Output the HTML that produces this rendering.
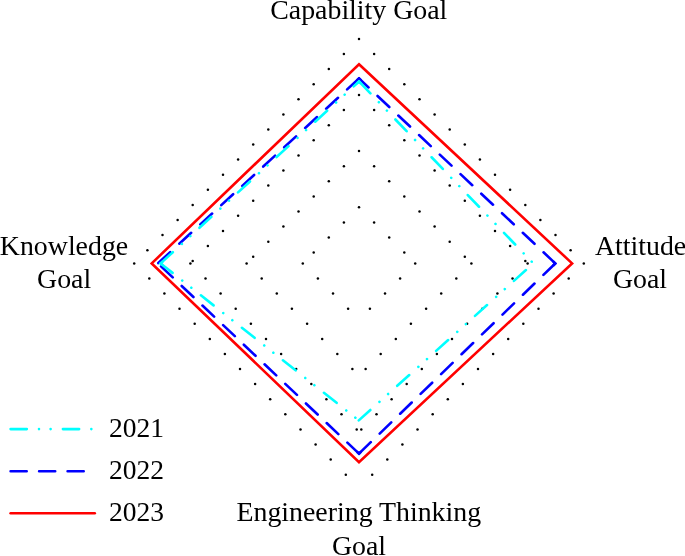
<!DOCTYPE html>
<html><head><meta charset="utf-8"><title>Radar chart</title>
<style>html,body{margin:0;padding:0;background:#fff}svg{display:block}</style></head>
<body>
<svg width="685" height="556" viewBox="0 0 685 556">
<rect width="685" height="556" fill="#fff"/>
<g fill="#000">
<circle cx="359.0" cy="207.3" r="1.25"/>
<circle cx="343.9" cy="222.4" r="1.25"/>
<circle cx="328.8" cy="237.5" r="1.25"/>
<circle cx="313.7" cy="252.6" r="1.25"/>
<circle cx="302.8" cy="263.4" r="1.25"/>
<circle cx="317.9" cy="278.5" r="1.25"/>
<circle cx="333.0" cy="293.6" r="1.25"/>
<circle cx="348.1" cy="308.7" r="1.25"/>
<circle cx="374.1" cy="222.4" r="1.25"/>
<circle cx="389.2" cy="237.5" r="1.25"/>
<circle cx="404.3" cy="252.6" r="1.25"/>
<circle cx="415.2" cy="263.4" r="1.25"/>
<circle cx="400.1" cy="278.5" r="1.25"/>
<circle cx="385.0" cy="293.6" r="1.25"/>
<circle cx="369.9" cy="308.7" r="1.25"/>
<circle cx="359.0" cy="151.1" r="1.25"/>
<circle cx="343.9" cy="166.2" r="1.25"/>
<circle cx="328.8" cy="181.3" r="1.25"/>
<circle cx="313.7" cy="196.4" r="1.25"/>
<circle cx="298.5" cy="211.5" r="1.25"/>
<circle cx="283.4" cy="226.6" r="1.25"/>
<circle cx="268.3" cy="241.7" r="1.25"/>
<circle cx="253.2" cy="256.8" r="1.25"/>
<circle cx="246.6" cy="263.4" r="1.25"/>
<circle cx="261.7" cy="278.5" r="1.25"/>
<circle cx="276.8" cy="293.6" r="1.25"/>
<circle cx="291.9" cy="308.7" r="1.25"/>
<circle cx="307.1" cy="323.8" r="1.25"/>
<circle cx="322.2" cy="338.9" r="1.25"/>
<circle cx="337.3" cy="354.0" r="1.25"/>
<circle cx="352.4" cy="369.1" r="1.25"/>
<circle cx="374.1" cy="166.2" r="1.25"/>
<circle cx="389.2" cy="181.3" r="1.25"/>
<circle cx="404.3" cy="196.4" r="1.25"/>
<circle cx="419.5" cy="211.5" r="1.25"/>
<circle cx="434.6" cy="226.6" r="1.25"/>
<circle cx="449.7" cy="241.7" r="1.25"/>
<circle cx="464.8" cy="256.8" r="1.25"/>
<circle cx="471.4" cy="263.4" r="1.25"/>
<circle cx="456.3" cy="278.5" r="1.25"/>
<circle cx="441.2" cy="293.6" r="1.25"/>
<circle cx="426.1" cy="308.7" r="1.25"/>
<circle cx="410.9" cy="323.8" r="1.25"/>
<circle cx="395.8" cy="338.9" r="1.25"/>
<circle cx="380.7" cy="354.0" r="1.25"/>
<circle cx="365.6" cy="369.1" r="1.25"/>
<circle cx="359.0" cy="95.0" r="1.25"/>
<circle cx="343.9" cy="110.1" r="1.25"/>
<circle cx="328.8" cy="125.2" r="1.25"/>
<circle cx="313.7" cy="140.3" r="1.25"/>
<circle cx="298.5" cy="155.4" r="1.25"/>
<circle cx="283.4" cy="170.5" r="1.25"/>
<circle cx="268.3" cy="185.6" r="1.25"/>
<circle cx="253.2" cy="200.7" r="1.25"/>
<circle cx="238.1" cy="215.8" r="1.25"/>
<circle cx="223.0" cy="230.9" r="1.25"/>
<circle cx="207.9" cy="246.0" r="1.25"/>
<circle cx="192.7" cy="261.1" r="1.25"/>
<circle cx="190.4" cy="263.4" r="1.25"/>
<circle cx="205.5" cy="278.5" r="1.25"/>
<circle cx="220.6" cy="293.6" r="1.25"/>
<circle cx="235.7" cy="308.7" r="1.25"/>
<circle cx="250.9" cy="323.8" r="1.25"/>
<circle cx="266.0" cy="338.9" r="1.25"/>
<circle cx="281.1" cy="354.0" r="1.25"/>
<circle cx="296.2" cy="369.1" r="1.25"/>
<circle cx="311.3" cy="384.1" r="1.25"/>
<circle cx="326.4" cy="399.2" r="1.25"/>
<circle cx="341.5" cy="414.3" r="1.25"/>
<circle cx="356.7" cy="429.4" r="1.25"/>
<circle cx="374.1" cy="110.1" r="1.25"/>
<circle cx="389.2" cy="125.2" r="1.25"/>
<circle cx="404.3" cy="140.3" r="1.25"/>
<circle cx="419.5" cy="155.4" r="1.25"/>
<circle cx="434.6" cy="170.5" r="1.25"/>
<circle cx="449.7" cy="185.6" r="1.25"/>
<circle cx="464.8" cy="200.7" r="1.25"/>
<circle cx="479.9" cy="215.8" r="1.25"/>
<circle cx="495.0" cy="230.9" r="1.25"/>
<circle cx="510.1" cy="246.0" r="1.25"/>
<circle cx="525.3" cy="261.1" r="1.25"/>
<circle cx="527.6" cy="263.4" r="1.25"/>
<circle cx="512.5" cy="278.5" r="1.25"/>
<circle cx="497.4" cy="293.6" r="1.25"/>
<circle cx="482.3" cy="308.7" r="1.25"/>
<circle cx="467.1" cy="323.8" r="1.25"/>
<circle cx="452.0" cy="338.9" r="1.25"/>
<circle cx="436.9" cy="354.0" r="1.25"/>
<circle cx="421.8" cy="369.1" r="1.25"/>
<circle cx="406.7" cy="384.1" r="1.25"/>
<circle cx="391.6" cy="399.2" r="1.25"/>
<circle cx="376.5" cy="414.3" r="1.25"/>
<circle cx="361.3" cy="429.4" r="1.25"/>
<circle cx="359.0" cy="38.9" r="1.25"/>
<circle cx="343.9" cy="54.0" r="1.25"/>
<circle cx="328.8" cy="69.1" r="1.25"/>
<circle cx="313.7" cy="84.2" r="1.25"/>
<circle cx="298.5" cy="99.3" r="1.25"/>
<circle cx="283.4" cy="114.4" r="1.25"/>
<circle cx="268.3" cy="129.5" r="1.25"/>
<circle cx="253.2" cy="144.6" r="1.25"/>
<circle cx="238.1" cy="159.6" r="1.25"/>
<circle cx="223.0" cy="174.7" r="1.25"/>
<circle cx="207.9" cy="189.8" r="1.25"/>
<circle cx="192.7" cy="204.9" r="1.25"/>
<circle cx="177.6" cy="220.0" r="1.25"/>
<circle cx="162.5" cy="235.1" r="1.25"/>
<circle cx="147.4" cy="250.2" r="1.25"/>
<circle cx="134.2" cy="263.4" r="1.25"/>
<circle cx="149.3" cy="278.5" r="1.25"/>
<circle cx="164.4" cy="293.6" r="1.25"/>
<circle cx="179.5" cy="308.7" r="1.25"/>
<circle cx="194.7" cy="323.8" r="1.25"/>
<circle cx="209.8" cy="338.9" r="1.25"/>
<circle cx="224.9" cy="354.0" r="1.25"/>
<circle cx="240.0" cy="369.1" r="1.25"/>
<circle cx="255.1" cy="384.1" r="1.25"/>
<circle cx="270.2" cy="399.2" r="1.25"/>
<circle cx="285.3" cy="414.3" r="1.25"/>
<circle cx="300.5" cy="429.4" r="1.25"/>
<circle cx="315.6" cy="444.5" r="1.25"/>
<circle cx="330.7" cy="459.6" r="1.25"/>
<circle cx="345.8" cy="474.7" r="1.25"/>
<circle cx="374.1" cy="54.0" r="1.25"/>
<circle cx="389.2" cy="69.1" r="1.25"/>
<circle cx="404.3" cy="84.2" r="1.25"/>
<circle cx="419.5" cy="99.3" r="1.25"/>
<circle cx="434.6" cy="114.4" r="1.25"/>
<circle cx="449.7" cy="129.5" r="1.25"/>
<circle cx="464.8" cy="144.6" r="1.25"/>
<circle cx="479.9" cy="159.6" r="1.25"/>
<circle cx="495.0" cy="174.7" r="1.25"/>
<circle cx="510.1" cy="189.8" r="1.25"/>
<circle cx="525.3" cy="204.9" r="1.25"/>
<circle cx="540.4" cy="220.0" r="1.25"/>
<circle cx="555.5" cy="235.1" r="1.25"/>
<circle cx="570.6" cy="250.2" r="1.25"/>
<circle cx="583.8" cy="263.4" r="1.25"/>
<circle cx="568.7" cy="278.5" r="1.25"/>
<circle cx="553.6" cy="293.6" r="1.25"/>
<circle cx="538.5" cy="308.7" r="1.25"/>
<circle cx="523.3" cy="323.8" r="1.25"/>
<circle cx="508.2" cy="338.9" r="1.25"/>
<circle cx="493.1" cy="354.0" r="1.25"/>
<circle cx="478.0" cy="369.1" r="1.25"/>
<circle cx="462.9" cy="384.1" r="1.25"/>
<circle cx="447.8" cy="399.2" r="1.25"/>
<circle cx="432.7" cy="414.3" r="1.25"/>
<circle cx="417.5" cy="429.4" r="1.25"/>
<circle cx="402.4" cy="444.5" r="1.25"/>
<circle cx="387.3" cy="459.6" r="1.25"/>
<circle cx="372.2" cy="474.7" r="1.25"/>
</g>
<g fill="none" stroke-width="2.6" stroke-linecap="round" stroke-miterlimit="10">
<path d="M359,78.5 L555.3,263.4" stroke="#0000ff" stroke-dasharray="16.10 12.40" stroke-dashoffset="3.00"/>
<path d="M359,78.5 L157.9,263.4" stroke="#0000ff" stroke-dasharray="16.10 12.40" stroke-dashoffset="-0.00"/>
<path d="M157.9,263.4 L359,453.6" stroke="#0000ff" stroke-dasharray="16.10 12.40" stroke-dashoffset="24.20"/>
<path d="M359,453.6 L555.3,263.4" stroke="#0000ff" stroke-dasharray="16.10 12.40" stroke-dashoffset="-0.30"/>
<path d="M356.79,80.53 L359,78.5 L361.18,80.56" stroke="#0000ff" stroke-linecap="butt" stroke-linejoin="miter"/>
<path d="M553.12,261.34 L555.3,263.4 L553.15,265.49" stroke="#0000ff" stroke-linecap="butt" stroke-linejoin="miter"/>
<path d="M361.15,451.51 L359,453.6 L356.82,451.54" stroke="#0000ff" stroke-linecap="butt" stroke-linejoin="miter"/>
<path d="M359,81.5 L533.3,263.4" stroke="#00ffff" stroke-dasharray="16.20 12.20 0.01 11.6 0.01 12.30" stroke-dashoffset="-0.30"/>
<path d="M533.3,263.4 L358.8,420.4" stroke="#00ffff" stroke-dasharray="16.20 12.20 0.01 11.6 0.01 12.30" stroke-dashoffset="-9.90"/>
<path d="M358.8,420.4 L160.6,263.4" stroke="#00ffff" stroke-dasharray="16.20 12.20 0.01 11.6 0.01 12.30" stroke-dashoffset="24.02"/>
<path d="M160.6,263.4 L359,81.5" stroke="#00ffff" stroke-dasharray="16.20 12.20 0.01 11.6 0.01 12.30" stroke-dashoffset="-0.40"/>
<path d="M356.79,83.53 L359,81.5 L361.08,83.67" stroke="#00ffff" stroke-linecap="butt" stroke-linejoin="miter"/>
<path d="M162.95,265.26 L160.6,263.4 L162.81,261.37" stroke="#00ffff" stroke-linecap="butt" stroke-linejoin="miter"/>
<path d="M359,64.2 L572.1,263.4 L359,462.2 L151.7,263.4 Z" stroke="#ff0000" stroke-linejoin="miter"/>
<path d="M10.6,429.1 H95.8" stroke="#00ffff" stroke-dasharray="16.20 12.20 0.01 11.6 0.01 12.30"/>
<path d="M10.6,471.2 H86" stroke="#0000ff" stroke-dasharray="16.10 12.40"/>
<path d="M10.6,513.3 H94.8" stroke="#ff0000"/>
</g>
<g font-family="'Liberation Serif', serif" font-size="27.85" fill="#000">
<g font-size="27.5"><text x="109" y="436.5">2021</text>
<text x="109" y="479">2022</text>
<text x="109" y="521">2023</text></g>
<g text-anchor="middle">
<text x="358.8" y="19.3">Capability Goal</text>
<text x="64" y="255.2">Knowledge</text>
<text x="64.1" y="288">Goal</text>
<text x="640.6" y="255.3">Attitude</text>
<text x="640" y="288">Goal</text>
<text x="358.8" y="521.2">Engineering Thinking</text>
<text x="359" y="555">Goal</text>
</g></g></svg>
</body></html>
